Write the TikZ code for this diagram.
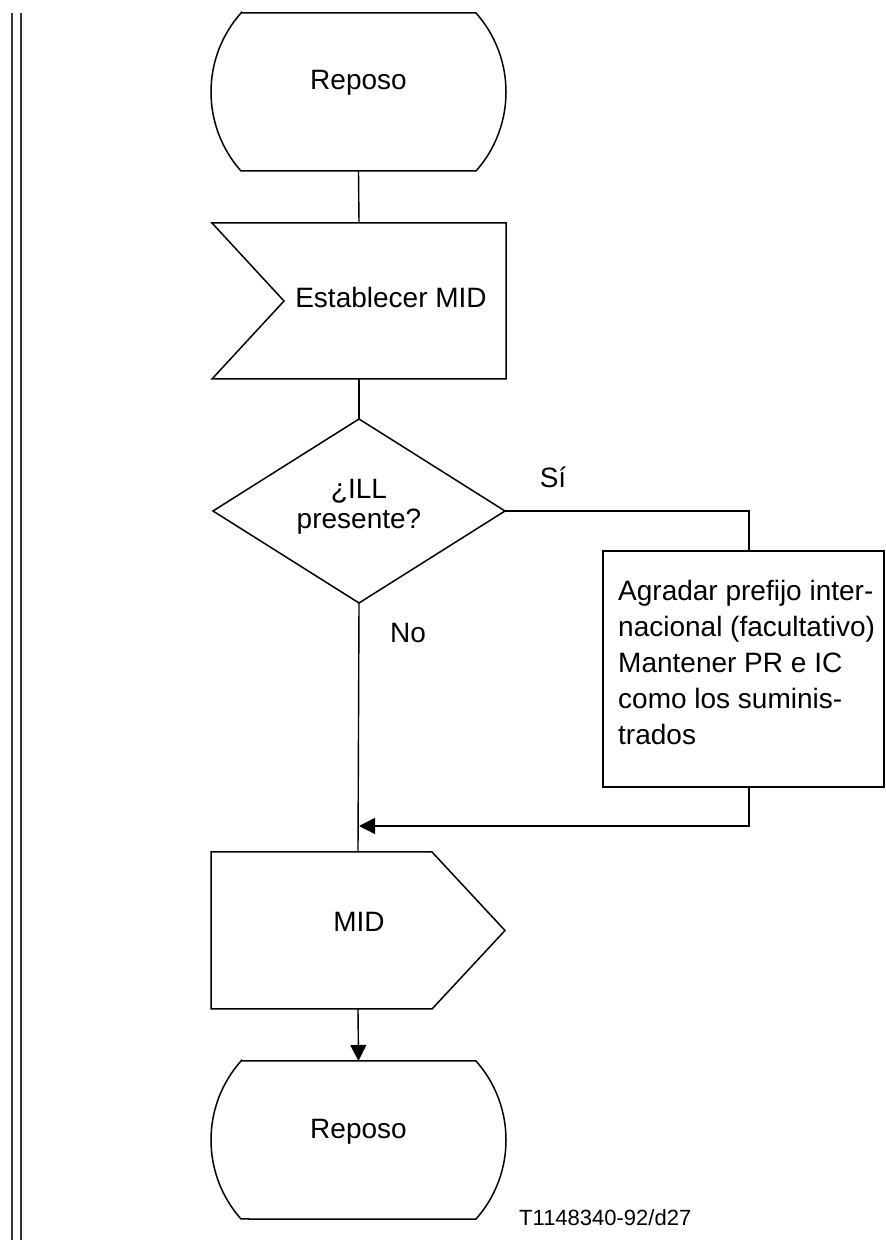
\documentclass[tikz,border=0pt]{standalone}
\usepackage{fontspec}
\setmainfont{Liberation Sans}
\usetikzlibrary{arrows.meta,calc}
\begin{document}
\begin{tikzpicture}[x=1pt,y=1pt,
  shapebox/.style={draw=none, inner sep=0pt, outer sep=0pt},
  outline/.style={line width=1.5pt, line join=miter},
  conn/.style={line width=1.4pt},
  arr/.style={conn, -{Triangle[length=16pt,width=16pt]}},
  lbl/.style={font=\fontsize{28}{36}\selectfont, inner sep=0pt}]
\useasboundingbox (0,0) rectangle (886,1240);
\fill[white] (0,0) rectangle (886,1240);
% left double rule
\draw[line width=2pt, black!80] (12,0) -- (12,1227);
\draw[line width=2pt, black!80] (21,0) -- (21,1227);

% top terminal
\node[shapebox, minimum width=295pt, minimum height=158pt] (r1) at (358.5,1148) {};
\draw[outline] ([xshift=30pt]r1.north west) -- ([xshift=-30pt]r1.north east)
  arc[start angle=41.6, end angle=-41.6, radius=119pt]
  -- ([xshift=30pt]r1.south west)
  arc[start angle=221.6, end angle=138.4, radius=119pt] -- cycle;
\node[lbl] (r1t) at (358.5,1157) {Reposo};

% input signal
\node[shapebox, minimum width=294pt, minimum height=156pt] (e) at (359,939) {};
\draw[outline] (e.north west) -- (e.north east) -- (e.south east) -- (e.south west)
  -- ([xshift=72pt]e.west) -- cycle;
\node[lbl] (et) at (391,942) {Establecer MID};

% decision
\node[shapebox, minimum width=292pt, minimum height=184pt] (d) at (359,729) {};
\draw[outline] (d.north) -- (d.east) -- (d.south) -- (d.west) -- cycle;
\node[lbl, font=\fontsize{28}{30}\selectfont, align=center] (dt) at (359,733) {¿ILL\\presente?};

% task box
\node[shapebox, draw, outline, minimum width=281pt, minimum height=236pt] (b) at (743.5,571) {};
\node[lbl, anchor=west, align=left] (bt) at (618,578) {Agradar prefijo inter-\\nacional (facultativo)\\Mantener PR e IC\\como los suminis-\\trados};

% output signal
\node[shapebox, minimum width=294pt, minimum height=157pt] (m) at (358,309.5) {};
\draw[outline] (m.north west) -- ([xshift=-73pt]m.north east) -- (m.east)
  -- ([xshift=-73pt]m.south east) -- (m.south west) -- cycle;
\node[lbl] (mt) at (359,318) {MID};

% bottom terminal
\node[shapebox, minimum width=295pt, minimum height=158pt] (r2) at (358.5,100) {};
\draw[outline] ([xshift=30pt]r2.north west) -- ([xshift=-30pt]r2.north east)
  arc[start angle=41.6, end angle=-41.6, radius=119pt]
  -- ([xshift=30pt]r2.south west)
  arc[start angle=221.6, end angle=138.4, radius=119pt] -- cycle;
\node[lbl] (r2t) at (358.5,108) {Reposo};

% labels
\node[lbl] (si) at (553,763) {Sí};
\node[lbl] (no) at (408,607) {No};
\node[lbl, font=\fontsize{22}{26}\selectfont, anchor=west] (ref) at (519,22) {T1148340-92/d27};

% connectors
\coordinate (j) at (359,414);
\draw[conn] (r1.south) -- (e.north);
\draw[conn] (e.south) -- (d.north);
\draw[conn] (d.south) -- (m.north);
\draw[conn] (d.east) -| ([xshift=5.5pt]b.north);
\draw[arr] ([xshift=5.5pt]b.south) |- (j);
\draw[arr] (m.south) -- (r2.north);
\end{tikzpicture}
\end{document}
